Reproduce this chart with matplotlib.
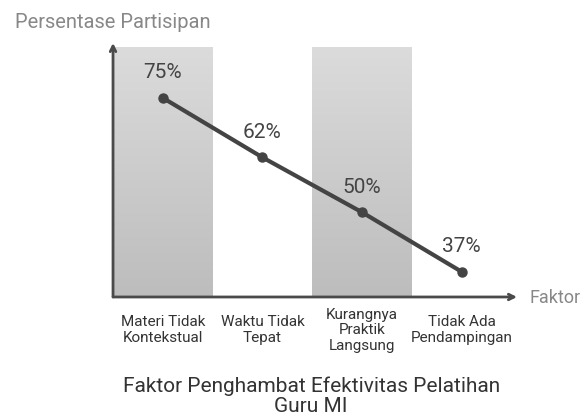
import numpy as np
import matplotlib.pyplot as plt

plt.rcParams['font.family'] = ['Roboto', 'DejaVu Sans']

faktor = ["Materi Tidak\nKontekstual", "Waktu Tidak\nTepat", "Kurangnya\nPraktik\nLangsung", "Tidak Ada\nPendampingan"]
persen = [75, 62, 50, 37]
label = ["75%", "62%", "50%", "37%"]
shaded = [0, 2]

fig = plt.figure(figsize=(5.85, 4.17), dpi=100)
ax = fig.add_axes([0.1932, 0.2878, 0.6906, 0.6091])
ymin, ymax = 31.5, 87.0
ax.set_xlim(-0.5, 3.555)
ax.set_ylim(ymin, ymax)

# gradient columns behind alternating categories (light top, darker bottom)
g = np.linspace(0.86, 0.74, 256).reshape(-1, 1)
grad = np.dstack([g, g, g])
for i in shaded:
    ax.imshow(grad, aspect='auto', origin='upper',
              extent=(i - 0.5, i + 0.5, ymin, 86.1), zorder=0)

x = np.arange(len(persen))
ax.plot(x, persen, color='#444444', lw=3, marker='o', ms=6.5, zorder=3)
for xi, yi, t in zip(x, persen, label):
    ax.annotate(t, (xi, yi), xytext=(0, 18), textcoords='offset points',
                ha='center', va='center', fontsize=15, color='#444444')

for s in ax.spines.values():
    s.set_visible(False)
ax.set_xticks([])
ax.set_yticks([])

# axes with arrow heads
ax.annotate('', xy=(0, 1.0), xytext=(0, 0), xycoords='axes fraction',
            arrowprops=dict(arrowstyle='->', color='#4a4a4a', lw=2, shrinkA=0, shrinkB=0))
ax.annotate('', xy=(1.0, 0), xytext=(0, 0), xycoords='axes fraction',
            arrowprops=dict(arrowstyle='->', color='#4a4a4a', lw=2, shrinkA=0, shrinkB=0))

for xi, f in zip(x, faktor):
    ax.annotate(f, (xi, ymin), xytext=(0, -24), textcoords='offset points',
                ha='center', va='center', fontsize=11, color='#333333', linespacing=1.15)

fig.text(0.025, 0.946, "Persentase Partisipan", fontsize=14.5, color='#888888', ha='left', va='center')
fig.text(0.905, 0.286, "Faktor", fontsize=13, color='#888888', ha='left', va='center')
fig.text(0.532, 0.05, "Faktor Penghambat Efektivitas Pelatihan\nGuru MI", fontsize=15,
         color='#333333', ha='center', va='center', linespacing=1.1)

fig.savefig('out.png', dpi=100)
